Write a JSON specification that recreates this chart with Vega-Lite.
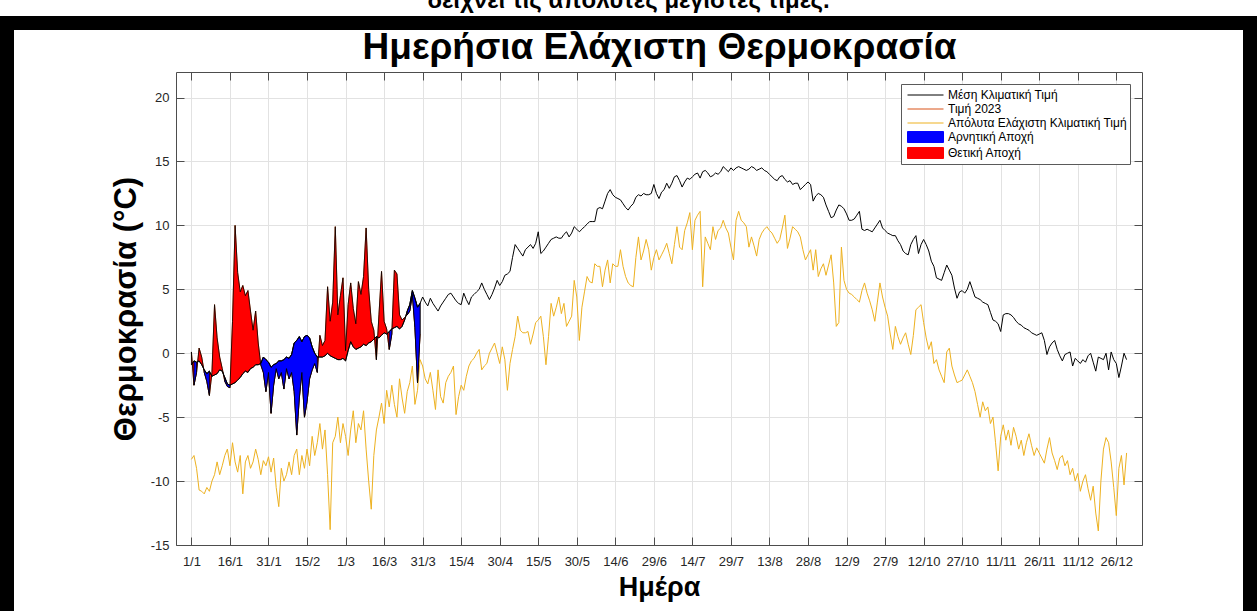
{
"$schema": "https://vega.github.io/schema/vega-lite/v6.json",
"width": 1243, "height": 588,
"autosize": "none",
"padding": {"left": 7, "top": 23, "right": 7, "bottom": 0},
"background": "white",
"title": {"text": "δείχνει τις απόλυτες μέγιστες τιμές.", "frame": "group", "anchor": "middle", "orient": "top", "offset": -9, "baseline": "alphabetic", "font": "Liberation Sans", "fontSize": 24, "fontWeight": "bold", "color": "black"},
"config": {
 "font": "Liberation Sans",
 "view": {"stroke": "black", "strokeWidth": 14, "fill": "white", "strokeDash": [1831, 1243, 700]},
 "axis": {"labelFont": "Liberation Sans", "titleFont": "Liberation Sans", "labelColor": "#262626", "titleColor": "black", "domainColor": "#4d4d4d", "tickColor": "#4d4d4d", "gridColor": "#e2e2e2", "labelFontSize": 13, "domainWidth": 1, "tickWidth": 1, "gridWidth": 1, "tickSize": -8, "minExtent": 0},
 "legend": {"orient": "none", "legendX": 894, "legendY": 61, "title": null, "direction": "vertical", "fillColor": "white", "strokeColor": "#5a5a5a", "padding": 3, "rowPadding": 0, "labelFont": "Liberation Sans", "labelFontSize": 12, "labelColor": "black", "labelLimit": 400, "labelOffset": 28, "symbolSize": 225, "symbolStrokeWidth": 1, "labelBaseline": "middle"}
},
"datasets": {
"clim": [
{"d":1,"m":-0.9,"a":-8.3},{"d":2,"m":-0.6,"a":-8.0},{"d":3,"m":-0.7,"a":-9.0},{"d":4,"m":-0.6,"a":-10.7},{"d":5,"m":-0.9,"a":-10.8},{"d":6,"m":-1.3,"a":-11.0},{"d":7,"m":-1.6,"a":-10.5},{"d":8,"m":-1.4,"a":-10.8},{"d":9,"m":-1.8,"a":-10.0},{"d":10,"m":-1.7,"a":-9.5},
{"d":11,"m":-1.6,"a":-8.5},{"d":12,"m":-1.3,"a":-9.5},{"d":13,"m":-1.4,"a":-8.8},{"d":14,"m":-1.9,"a":-8.0},{"d":15,"m":-2.4,"a":-7.5},{"d":16,"m":-2.5,"a":-8.8},{"d":17,"m":-2.4,"a":-7.0},{"d":18,"m":-2.3,"a":-8.5},{"d":19,"m":-2.1,"a":-9.3},{"d":20,"m":-1.9,"a":-8.0},
{"d":21,"m":-1.6,"a":-11.0},{"d":22,"m":-1.4,"a":-8.5},{"d":23,"m":-1.5,"a":-8.0},{"d":24,"m":-1.2,"a":-9.0},{"d":25,"m":-1.1,"a":-8.5},{"d":26,"m":-0.9,"a":-7.5},{"d":27,"m":-0.9,"a":-8.3},{"d":28,"m":-0.8,"a":-9.5},{"d":29,"m":-0.3,"a":-8.4},{"d":30,"m":-0.5,"a":-8.8},
{"d":31,"m":-0.7,"a":-8.1},{"d":32,"m":-1.1,"a":-9.3},{"d":33,"m":-0.9,"a":-8.2},{"d":34,"m":-0.8,"a":-10.5},{"d":35,"m":-0.6,"a":-12.0},{"d":36,"m":-0.6,"a":-9.0},{"d":37,"m":-0.5,"a":-10.0},{"d":38,"m":-0.3,"a":-9.5},{"d":39,"m":-0.4,"a":-8.5},{"d":40,"m":-0.1,"a":-9.5},
{"d":41,"m":0.8,"a":-8.0},{"d":42,"m":1.0,"a":-7.5},{"d":43,"m":1.3,"a":-9.5},{"d":44,"m":0.9,"a":-8.0},{"d":45,"m":1.3,"a":-9.0},{"d":46,"m":1.4,"a":-7.5},{"d":47,"m":1.2,"a":-8.8},{"d":48,"m":0.5,"a":-6.5},{"d":49,"m":0.0,"a":-8.0},{"d":50,"m":-0.3,"a":-7.0},
{"d":51,"m":-0.3,"a":-5.5},{"d":52,"m":-0.3,"a":-7.5},{"d":53,"m":-0.2,"a":-6.0},{"d":54,"m":0.0,"a":-9.5},{"d":55,"m":-0.2,"a":-13.8},{"d":56,"m":-0.3,"a":-7.0},{"d":57,"m":-0.4,"a":-6.5},{"d":58,"m":-0.5,"a":-5.0},{"d":59,"m":-0.5,"a":-7.0},{"d":60,"m":-0.4,"a":-5.5},
{"d":61,"m":-0.6,"a":-6.5},{"d":62,"m":0.2,"a":-8.0},{"d":63,"m":0.9,"a":-6.0},{"d":64,"m":0.5,"a":-4.5},{"d":65,"m":0.3,"a":-7.0},{"d":66,"m":0.4,"a":-5.5},{"d":67,"m":0.5,"a":-6.0},{"d":68,"m":0.7,"a":-4.5},{"d":69,"m":0.6,"a":-7.5},{"d":70,"m":0.8,"a":-10.0},
{"d":71,"m":0.9,"a":-12.2},{"d":72,"m":1.1,"a":-8.0},{"d":73,"m":1.3,"a":-6.0},{"d":74,"m":1.2,"a":-5.0},{"d":75,"m":1.4,"a":-3.9},{"d":76,"m":1.6,"a":-5.5},{"d":77,"m":1.5,"a":-2.9},{"d":78,"m":1.7,"a":-4.2},{"d":79,"m":1.9,"a":-2.5},{"d":80,"m":2.0,"a":-4.0},
{"d":81,"m":2.1,"a":-5.0},{"d":82,"m":1.9,"a":-2.0},{"d":83,"m":2.1,"a":-3.5},{"d":84,"m":2.6,"a":-4.7},{"d":85,"m":3.3,"a":-3.0},{"d":86,"m":3.8,"a":-2.3},{"d":87,"m":4.9,"a":-1.0},{"d":88,"m":4.3,"a":-4.0},{"d":89,"m":3.6,"a":-2.9},{"d":90,"m":3.9,"a":-0.5},
{"d":91,"m":4.4,"a":-1.0},{"d":92,"m":4.0,"a":-2.0},{"d":93,"m":3.7,"a":-2.4},{"d":94,"m":4.3,"a":-1.5},{"d":95,"m":3.9,"a":-2.9},{"d":96,"m":3.6,"a":-4.4},{"d":97,"m":3.3,"a":-1.3},{"d":98,"m":3.7,"a":-3.4},{"d":99,"m":4.0,"a":-3.9},{"d":100,"m":4.3,"a":-2.3},
{"d":101,"m":4.6,"a":-1.8},{"d":102,"m":4.7,"a":-1.5},{"d":103,"m":4.4,"a":-1.0},{"d":104,"m":4.1,"a":-4.8},{"d":105,"m":3.9,"a":-3.4},{"d":106,"m":3.8,"a":-2.5},{"d":107,"m":4.7,"a":-2.9},{"d":108,"m":4.2,"a":-1.8},{"d":109,"m":3.8,"a":-1.0},{"d":110,"m":4.4,"a":-0.6},
{"d":111,"m":4.6,"a":-0.4},{"d":112,"m":4.8,"a":0.0},{"d":113,"m":5.0,"a":0.3},{"d":114,"m":5.5,"a":-1.3},{"d":115,"m":5.0,"a":-1.0},{"d":116,"m":4.6,"a":-0.8},{"d":117,"m":4.2,"a":0.0},{"d":118,"m":4.6,"a":0.4},{"d":119,"m":5.1,"a":0.8},{"d":120,"m":5.7,"a":0.0},
{"d":121,"m":5.3,"a":-0.8},{"d":122,"m":5.6,"a":0.5},{"d":123,"m":6.1,"a":-0.5},{"d":124,"m":6.2,"a":-2.9},{"d":125,"m":6.4,"a":-0.8},{"d":126,"m":7.5,"a":0.3},{"d":127,"m":8.5,"a":1.3},{"d":128,"m":8.2,"a":2.9},{"d":129,"m":7.9,"a":1.8},{"d":130,"m":7.6,"a":1.6},
{"d":131,"m":8.1,"a":1.6},{"d":132,"m":8.3,"a":1.7},{"d":133,"m":8.5,"a":0.7},{"d":134,"m":8.2,"a":1.5},{"d":135,"m":8.6,"a":2.4},{"d":136,"m":9.5,"a":2.6},{"d":137,"m":7.8,"a":2.9},{"d":138,"m":8.0,"a":1.3},{"d":139,"m":8.3,"a":-0.9},{"d":140,"m":8.6,"a":1.3},
{"d":141,"m":8.9,"a":3.9},{"d":142,"m":9.0,"a":2.9},{"d":143,"m":9.1,"a":3.6},{"d":144,"m":9.0,"a":4.4},{"d":145,"m":9.0,"a":3.1},{"d":146,"m":9.3,"a":3.9},{"d":147,"m":9.5,"a":2.1},{"d":148,"m":9.1,"a":2.5},{"d":149,"m":9.4,"a":2.9},{"d":150,"m":9.9,"a":5.7},
{"d":151,"m":9.7,"a":4.4},{"d":152,"m":9.5,"a":1.0},{"d":153,"m":9.7,"a":3.6},{"d":154,"m":9.9,"a":4.8},{"d":155,"m":10.1,"a":6.0},{"d":156,"m":10.3,"a":5.6},{"d":157,"m":10.3,"a":5.5},{"d":158,"m":10.3,"a":7.0},{"d":159,"m":11.3,"a":6.8},{"d":160,"m":11.4,"a":6.8},
{"d":161,"m":11.3,"a":5.2},{"d":162,"m":11.9,"a":6.5},{"d":163,"m":12.5,"a":7.3},{"d":164,"m":12.8,"a":5.5},{"d":165,"m":12.4,"a":7.0},{"d":166,"m":12.2,"a":6.8},{"d":167,"m":12.1,"a":6.8},{"d":168,"m":12.0,"a":8.1},{"d":169,"m":11.7,"a":6.8},{"d":170,"m":11.4,"a":6.0},
{"d":171,"m":11.2,"a":5.5},{"d":172,"m":11.5,"a":5.3},{"d":173,"m":11.7,"a":5.2},{"d":174,"m":12.2,"a":7.5},{"d":175,"m":12.4,"a":9.1},{"d":176,"m":12.3,"a":7.3},{"d":177,"m":12.5,"a":8.0},{"d":178,"m":12.4,"a":8.9},{"d":179,"m":12.4,"a":8.1},{"d":180,"m":12.5,"a":6.5},
{"d":181,"m":13.2,"a":7.5},{"d":182,"m":12.5,"a":8.1},{"d":183,"m":12.1,"a":7.3},{"d":184,"m":12.6,"a":7.7},{"d":185,"m":12.8,"a":8.1},{"d":186,"m":13.3,"a":8.6},{"d":187,"m":12.9,"a":7.8},{"d":188,"m":13.3,"a":7.0},{"d":189,"m":13.8,"a":8.5},{"d":190,"m":13.9,"a":9.9},
{"d":191,"m":13.5,"a":8.3},{"d":192,"m":13.0,"a":8.1},{"d":193,"m":13.4,"a":9.6},{"d":194,"m":13.7,"a":10.2},{"d":195,"m":13.6,"a":11.0},{"d":196,"m":13.8,"a":8.1},{"d":197,"m":14.0,"a":10.4},{"d":198,"m":14.1,"a":10.8},{"d":199,"m":13.7,"a":11.1},{"d":200,"m":14.2,"a":5.2},
{"d":201,"m":14.3,"a":9.1},{"d":202,"m":14.1,"a":8.6},{"d":203,"m":13.8,"a":8.1},{"d":204,"m":13.9,"a":9.9},{"d":205,"m":14.1,"a":8.9},{"d":206,"m":14.0,"a":9.6},{"d":207,"m":14.2,"a":9.8},{"d":208,"m":14.6,"a":10.4},{"d":209,"m":14.4,"a":9.8},{"d":210,"m":14.2,"a":9.4},
{"d":211,"m":14.5,"a":8.3},{"d":212,"m":14.3,"a":7.3},{"d":213,"m":14.5,"a":10.4},{"d":214,"m":14.6,"a":11.1},{"d":215,"m":14.5,"a":10.4},{"d":216,"m":14.4,"a":10.2},{"d":217,"m":14.3,"a":9.9},{"d":218,"m":14.4,"a":8.3},{"d":219,"m":14.6,"a":9.1},{"d":220,"m":14.5,"a":8.4},
{"d":221,"m":14.3,"a":7.6},{"d":222,"m":14.4,"a":8.9},{"d":223,"m":14.5,"a":9.4},{"d":224,"m":14.3,"a":9.7},{"d":225,"m":14.2,"a":9.9},{"d":226,"m":14.0,"a":9.6},{"d":227,"m":13.8,"a":9.4},{"d":228,"m":13.6,"a":9.0},{"d":229,"m":13.5,"a":8.6},{"d":230,"m":13.8,"a":8.9},
{"d":231,"m":13.9,"a":9.8},{"d":232,"m":13.6,"a":10.8},{"d":233,"m":13.4,"a":8.2},{"d":234,"m":13.5,"a":9.0},{"d":235,"m":13.2,"a":9.9},{"d":236,"m":13.3,"a":9.7},{"d":237,"m":13.3,"a":9.5},{"d":238,"m":12.8,"a":9.1},{"d":239,"m":13.0,"a":8.1},{"d":240,"m":13.2,"a":7.3},
{"d":241,"m":13.4,"a":7.7},{"d":242,"m":13.2,"a":8.1},{"d":243,"m":11.9,"a":6.5},{"d":244,"m":12.3,"a":8.1},{"d":245,"m":12.5,"a":6.0},{"d":246,"m":12.4,"a":6.6},{"d":247,"m":12.2,"a":7.0},{"d":248,"m":11.6,"a":6.1},{"d":249,"m":11.1,"a":6.9},{"d":250,"m":10.6,"a":7.7},
{"d":251,"m":10.7,"a":5.5},{"d":252,"m":11.2,"a":2.1},{"d":253,"m":11.6,"a":2.4},{"d":254,"m":11.5,"a":8.3},{"d":255,"m":11.3,"a":5.7},{"d":256,"m":10.9,"a":5.0},{"d":257,"m":10.4,"a":4.7},{"d":258,"m":10.4,"a":4.6},{"d":259,"m":10.5,"a":4.4},{"d":260,"m":10.8,"a":4.2},
{"d":261,"m":11.1,"a":4.0},{"d":262,"m":9.7,"a":4.9},{"d":263,"m":9.6,"a":5.5},{"d":264,"m":9.7,"a":4.7},{"d":265,"m":9.6,"a":4.1},{"d":266,"m":9.5,"a":3.4},{"d":267,"m":9.8,"a":2.5},{"d":268,"m":10.1,"a":4.0},{"d":269,"m":10.4,"a":5.5},{"d":270,"m":9.8,"a":4.4},
{"d":271,"m":9.6,"a":3.6},{"d":272,"m":9.4,"a":2.9},{"d":273,"m":9.3,"a":1.5},{"d":274,"m":9.2,"a":0.3},{"d":275,"m":9.2,"a":2.1},{"d":276,"m":8.8,"a":1.3},{"d":277,"m":8.5,"a":0.7},{"d":278,"m":8.0,"a":1.2},{"d":279,"m":7.8,"a":1.6},{"d":280,"m":7.7,"a":0.7},
{"d":281,"m":8.5,"a":-0.1},{"d":282,"m":8.9,"a":1.4},{"d":283,"m":9.2,"a":3.4},{"d":284,"m":7.8,"a":3.6},{"d":285,"m":8.5,"a":3.8},{"d":286,"m":8.9,"a":2.4},{"d":287,"m":8.5,"a":1.2},{"d":288,"m":8.0,"a":0.3},{"d":289,"m":7.2,"a":0.9},{"d":290,"m":6.8,"a":-0.8},
{"d":291,"m":5.9,"a":-0.5},{"d":292,"m":5.8,"a":-1.3},{"d":293,"m":5.7,"a":-1.8},{"d":294,"m":6.3,"a":-2.3},{"d":295,"m":6.9,"a":0.1},{"d":296,"m":6.5,"a":0.4},{"d":297,"m":6.1,"a":-1.0},{"d":298,"m":5.1,"a":-1.7},{"d":299,"m":4.3,"a":-2.3},{"d":300,"m":4.8,"a":-2.2},
{"d":301,"m":4.9,"a":-2.1},{"d":302,"m":4.7,"a":-1.7},{"d":303,"m":5.0,"a":-1.3},{"d":304,"m":5.6,"a":-1.8},{"d":305,"m":5.0,"a":-2.3},{"d":306,"m":4.4,"a":-3.0},{"d":307,"m":4.3,"a":-4.0},{"d":308,"m":4.2,"a":-5.0},{"d":309,"m":4.0,"a":-3.8},{"d":310,"m":3.9,"a":-4.5},
{"d":311,"m":3.8,"a":-4.2},{"d":312,"m":3.2,"a":-5.5},{"d":313,"m":2.6,"a":-5.0},{"d":314,"m":2.5,"a":-7.0},{"d":315,"m":2.3,"a":-9.2},{"d":316,"m":1.7,"a":-6.5},{"d":317,"m":3.0,"a":-5.6},{"d":318,"m":3.1,"a":-6.8},{"d":319,"m":3.1,"a":-6.0},{"d":320,"m":3.0,"a":-7.2},
{"d":321,"m":2.8,"a":-5.8},{"d":322,"m":2.5,"a":-6.5},{"d":323,"m":2.3,"a":-7.5},{"d":324,"m":2.2,"a":-6.8},{"d":325,"m":2.0,"a":-8.0},{"d":326,"m":1.9,"a":-7.0},{"d":327,"m":1.8,"a":-6.3},{"d":328,"m":1.6,"a":-7.2},{"d":329,"m":1.5,"a":-8.0},{"d":330,"m":1.4,"a":-7.4},
{"d":331,"m":1.5,"a":-7.8},{"d":332,"m":1.6,"a":-8.2},{"d":333,"m":1.0,"a":-8.6},{"d":334,"m":-0.1,"a":-7.5},{"d":335,"m":0.5,"a":-6.6},{"d":336,"m":0.8,"a":-7.8},{"d":337,"m":1.0,"a":-8.4},{"d":338,"m":0.3,"a":-9.1},{"d":339,"m":-0.2,"a":-8.2},{"d":340,"m":-0.6,"a":-8.0},
{"d":341,"m":-0.1,"a":-8.8},{"d":342,"m":0.0,"a":-8.4},{"d":343,"m":0.1,"a":-9.5},{"d":344,"m":-1.0,"a":-9.0},{"d":345,"m":-0.4,"a":-10.0},{"d":346,"m":-0.6,"a":-9.4},{"d":347,"m":-0.8,"a":-10.8},{"d":348,"m":-0.5,"a":-10.0},{"d":349,"m":-0.7,"a":-9.5},{"d":350,"m":-0.2,"a":-10.6},
{"d":351,"m":0.0,"a":-11.5},{"d":352,"m":-0.7,"a":-10.4},{"d":353,"m":-1.4,"a":-12.5},{"d":354,"m":-0.3,"a":-13.9},{"d":355,"m":-0.4,"a":-10.0},{"d":356,"m":-0.5,"a":-7.5},{"d":357,"m":0.0,"a":-6.6},{"d":358,"m":-1.3,"a":-7.0},{"d":359,"m":0.1,"a":-8.5},{"d":360,"m":-0.5,"a":-10.5},
{"d":361,"m":-0.8,"a":-12.7},{"d":362,"m":-1.9,"a":-9.0},{"d":363,"m":-1.0,"a":-8.0},{"d":364,"m":0.0,"a":-10.3},{"d":365,"m":-0.5,"a":-7.8}
],
"y23": [
{"d":1,"m":-0.9,"v":0.1,"s":"P","g":1},{"d":2,"m":-0.6,"v":-2.5,"s":"N","g":2},{"d":3,"m":-0.7,"v":-1.5,"s":"N","g":2},{"d":4,"m":-0.6,"v":0.4,"s":"P","g":3},{"d":5,"m":-0.9,"v":-0.3,"s":"P","g":3},
{"d":6,"m":-1.3,"v":-1.5,"s":"N","g":4},{"d":7,"m":-1.6,"v":-2.2,"s":"N","g":4},{"d":8,"m":-1.4,"v":-3.3,"s":"N","g":4},{"d":9,"m":-1.8,"v":-1.5,"s":"P","g":5},{"d":10,"m":-1.7,"v":3.8,"s":"P","g":5},
{"d":11,"m":-1.6,"v":1.2,"s":"P","g":5},{"d":12,"m":-1.3,"v":-0.3,"s":"P","g":5},{"d":13,"m":-1.4,"v":-1.2,"s":"P","g":5},{"d":14,"m":-1.9,"v":-2.2,"s":"N","g":6},{"d":15,"m":-2.4,"v":-2.6,"s":"N","g":6},
{"d":16,"m":-2.5,"v":-2.7,"s":"N","g":6},{"d":17,"m":-2.4,"v":2.5,"s":"P","g":7},{"d":18,"m":-2.3,"v":10.0,"s":"P","g":7},{"d":19,"m":-2.1,"v":6.3,"s":"P","g":7},{"d":20,"m":-1.9,"v":4.8,"s":"P","g":7},
{"d":21,"m":-1.6,"v":5.3,"s":"P","g":7},{"d":22,"m":-1.4,"v":4.5,"s":"P","g":7},{"d":23,"m":-1.5,"v":4.9,"s":"P","g":7},{"d":24,"m":-1.2,"v":3.3,"s":"P","g":7},{"d":25,"m":-1.1,"v":1.8,"s":"P","g":7},
{"d":26,"m":-0.9,"v":3.3,"s":"P","g":7},{"d":27,"m":-0.9,"v":0.8,"s":"P","g":7},{"d":28,"m":-0.8,"v":-0.9,"s":"N","g":8},{"d":29,"m":-0.3,"v":-1.5,"s":"N","g":8},{"d":30,"m":-0.5,"v":-3.0,"s":"N","g":8},
{"d":31,"m":-0.7,"v":-1.5,"s":"N","g":8},{"d":32,"m":-1.1,"v":-4.7,"s":"N","g":8},{"d":33,"m":-0.9,"v":-2.5,"s":"N","g":8},{"d":34,"m":-0.8,"v":-1.2,"s":"N","g":8},{"d":35,"m":-0.6,"v":-2.0,"s":"N","g":8},
{"d":36,"m":-0.6,"v":-1.5,"s":"N","g":8},{"d":37,"m":-0.5,"v":-2.8,"s":"N","g":8},{"d":38,"m":-0.3,"v":-1.2,"s":"N","g":8},{"d":39,"m":-0.4,"v":-2.0,"s":"N","g":8},{"d":40,"m":-0.1,"v":-1.5,"s":"N","g":8},
{"d":41,"m":0.8,"v":-3.0,"s":"N","g":8},{"d":42,"m":1.0,"v":-6.4,"s":"N","g":8},{"d":43,"m":1.3,"v":-3.5,"s":"N","g":8},{"d":44,"m":0.9,"v":-1.5,"s":"N","g":8},{"d":45,"m":1.3,"v":-5.0,"s":"N","g":8},
{"d":46,"m":1.4,"v":-3.8,"s":"N","g":8},{"d":47,"m":1.2,"v":-2.0,"s":"N","g":8},{"d":48,"m":0.5,"v":-1.3,"s":"N","g":8},{"d":49,"m":0.0,"v":-0.8,"s":"N","g":8},{"d":50,"m":-0.3,"v":-1.5,"s":"N","g":8},
{"d":51,"m":-0.3,"v":1.4,"s":"P","g":9},{"d":52,"m":-0.3,"v":0.6,"s":"P","g":9},{"d":53,"m":-0.2,"v":1.0,"s":"P","g":9},{"d":54,"m":0.0,"v":5.2,"s":"P","g":9},{"d":55,"m":-0.2,"v":2.5,"s":"P","g":9},
{"d":56,"m":-0.3,"v":4.0,"s":"P","g":9},{"d":57,"m":-0.4,"v":9.9,"s":"P","g":9},{"d":58,"m":-0.5,"v":3.0,"s":"P","g":9},{"d":59,"m":-0.5,"v":4.5,"s":"P","g":9},{"d":60,"m":-0.4,"v":5.9,"s":"P","g":9},
{"d":61,"m":-0.6,"v":0.2,"s":"P","g":9},{"d":62,"m":0.2,"v":3.8,"s":"P","g":9},{"d":63,"m":0.9,"v":5.5,"s":"P","g":9},{"d":64,"m":0.5,"v":3.5,"s":"P","g":9},{"d":65,"m":0.3,"v":2.3,"s":"P","g":9},
{"d":66,"m":0.4,"v":5.6,"s":"P","g":9},{"d":67,"m":0.5,"v":4.6,"s":"P","g":9},{"d":68,"m":0.7,"v":6.0,"s":"P","g":9},{"d":69,"m":0.6,"v":9.8,"s":"P","g":9},{"d":70,"m":0.8,"v":5.0,"s":"P","g":9},
{"d":71,"m":0.9,"v":2.5,"s":"P","g":9},{"d":72,"m":1.1,"v":1.8,"s":"P","g":9},{"d":73,"m":1.3,"v":-0.5,"s":"N","g":10},{"d":74,"m":1.2,"v":3.0,"s":"P","g":11},{"d":75,"m":1.4,"v":6.4,"s":"P","g":11},
{"d":76,"m":1.6,"v":2.5,"s":"P","g":11},{"d":77,"m":1.5,"v":1.9,"s":"P","g":11},{"d":78,"m":1.7,"v":0.3,"s":"N","g":12},{"d":79,"m":1.9,"v":1.5,"s":"N","g":12},{"d":80,"m":2.0,"v":6.5,"s":"P","g":13},
{"d":81,"m":2.1,"v":6.2,"s":"P","g":13},{"d":82,"m":1.9,"v":3.0,"s":"P","g":13},{"d":83,"m":2.1,"v":2.6,"s":"P","g":13},{"d":84,"m":2.6,"v":2.8,"s":"P","g":13},{"d":85,"m":3.3,"v":3.0,"s":"N","g":14},
{"d":86,"m":3.8,"v":3.3,"s":"N","g":14},{"d":87,"m":4.9,"v":4.6,"s":"N","g":14},{"d":88,"m":4.3,"v":2.0,"s":"N","g":14},{"d":89,"m":3.6,"v":-2.3,"s":"N","g":14},{"d":90,"m":3.9,"v":1.5,"s":"N","g":14}
]
},
"layer": [
{
 "data": {"name": "clim"},
 "mark": {"type": "line", "strokeWidth": 1, "color": "#EDB120"},
 "encoding": {
  "x": {"field": "d", "type": "quantitative", "scale": {"domain": [-5, 371], "range": [169, 1135], "nice": false, "zero": false},
   "axis": {"orient": "top", "offset": -49, "values": [1,16,31,46,61,76,91,106,121,136,151,166,181,196,211,226,241,256,271,286,301,316,331,346,361], "labels": false, "grid": true, "title": "Ημερήσια Ελάχιστη Θερμοκρασία", "titleFontSize": 37, "titleFontWeight": "bold", "titlePadding": 14, "titleBaseline": "alphabetic", "minExtent": 0, "maxExtent": 0, "tickSize": -8}},
  "y": {"field": "a", "type": "quantitative", "scale": {"domain": [-15, 22], "range": [522, 49], "nice": false, "zero": false},
   "axis": {"orient": "right", "offset": -108, "values": [-15,-10,-5,0,5,10,15,20], "labels": false, "grid": false, "title": null, "tickSize": -8, "minExtent": 0}}
 }
},
{
 "data": {"name": "y23"},
 "mark": {"type": "line", "strokeWidth": 1, "color": "#D95319"},
 "encoding": {
  "x": {"field": "d", "type": "quantitative", "axis": null},
  "y": {"field": "v", "type": "quantitative", "axis": null}
 }
},
{
 "data": {"name": "y23"},
 "mark": {"type": "area", "fill": "#FF0000", "stroke": "black", "strokeWidth": 0.8, "strokeJoin": "round"},
 "encoding": {
  "x": {"field": "d", "type": "quantitative", "axis": null},
  "y": {"field": "v", "type": "quantitative", "axis": null},
  "y2": {"field": "m"}
 }
},
{
 "data": {"name": "y23"},
 "transform": [{"filter": "datum.s === 'N'"}],
 "mark": {"type": "area", "fill": "#0000FF", "stroke": "black", "strokeWidth": 0.8, "strokeJoin": "round"},
 "encoding": {
  "x": {"field": "d", "type": "quantitative", "axis": null},
  "y": {"field": "v", "type": "quantitative", "axis": null},
  "y2": {"field": "m"},
  "detail": {"field": "g", "type": "nominal"}
 }
},
{
 "data": {"name": "clim"},
 "mark": {"type": "line", "strokeWidth": 1},
 "encoding": {
  "x": {"field": "d", "type": "quantitative",
   "axis": {"orient": "bottom", "offset": -66, "values": [1,16,31,46,61,76,91,106,121,136,151,166,181,196,211,226,241,256,271,286,301,316,331,346,361],
    "labelExpr": "['1/1','16/1','31/1','15/2','1/3','16/3','31/3','15/4','30/4','15/5','30/5','14/6','29/6','14/7','29/7','13/8','28/8','12/9','27/9','12/10','27/10','11/11','26/11','11/12','26/12'][(datum.value-1)/15]",
    "title": "Ημέρα", "titleFontSize": 27, "titleFontWeight": "bold", "titlePadding": 6, "labelPadding": 18, "tickSize": -8, "grid": false, "labelFlush": false, "labelOverlap": false, "minExtent": 0}},
  "y": {"field": "m", "type": "quantitative",
   "axis": {"orient": "left", "offset": -169, "values": [-15,-10,-5,0,5,10,15,20], "labelExpr": "'' + datum.value", "title": "Θερμοκρασία (°C)", "titleFontSize": 31, "titleFontWeight": "bold", "titlePadding": 8, "labelPadding": 15, "tickSize": -8, "grid": true, "minExtent": 0}},
  "color": {"datum": "Μέση Κλιματική Τιμή",
   "scale": {"domain": ["Μέση Κλιματική Τιμή", "Τιμή 2023", "Απόλυτα Ελάχιστη Κλιματική Τιμή", "Αρνητική Αποχή", "Θετική Αποχή"], "range": ["#000000", "#D95319", "#EDB120", "#0000FF", "#FF0000"]},
   "legend": {"encode": {"symbols": {"update": {
     "shape": {"signal": "(datum.value === 'Αρνητική Αποχή' || datum.value === 'Θετική Αποχή') ? 'M-0.6,-0.73L4.2,-0.73L4.2,0.73L-0.6,0.73Z' : 'M-0.6,0L4.2,0'"},
     "fill": {"signal": "datum.value === 'Αρνητική Αποχή' ? '#0000ff' : (datum.value === 'Θετική Αποχή' ? '#ff0000' : 'transparent')"},
     "stroke": {"signal": "datum.value === 'Τιμή 2023' ? '#D95319' : (datum.value === 'Απόλυτα Ελάχιστη Κλιματική Τιμή' ? '#EDB120' : '#000000')"},
     "strokeWidth": {"value": 1}, "opacity": {"value": 1}, "fillOpacity": {"value": 1}, "strokeOpacity": {"value": 1}}}}}}
 }
}
],
"resolve": {"axis": {"x": "independent", "y": "independent"}}
}
